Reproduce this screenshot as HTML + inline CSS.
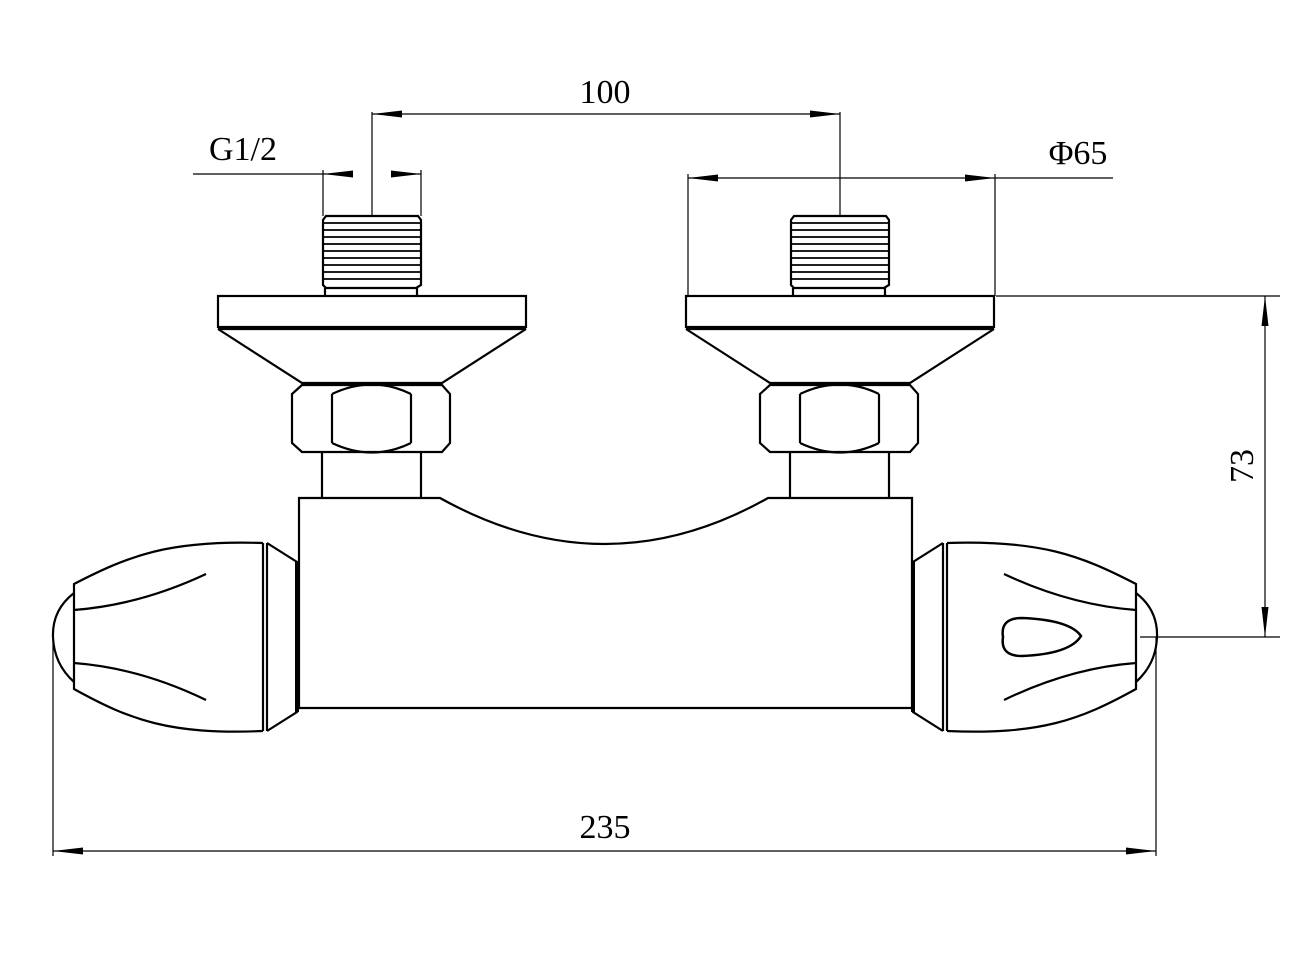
<!DOCTYPE html>
<html><head><style>html,body{margin:0;padding:0;background:#fff}svg{display:block}</style></head><body>
<svg width="1300" height="975" viewBox="0 0 1300 975" xmlns="http://www.w3.org/2000/svg">
<defs>
<marker id="a" viewBox="0 0 30 10" refX="30" refY="5" markerWidth="30" markerHeight="10" markerUnits="userSpaceOnUse" orient="auto-start-reverse"><path d="M0,1.5 L30,5 L0,8.5 Z" fill="#000"/></marker>
<g id="fit" fill="none" stroke="#000" stroke-width="2.2">
<path d="M323,220 L326,216 L418,216 L421,220 L421,285 L416,288 L326,288 L323,285 Z"/>
<path d="M323,223H421M323,230H421M323,237H421M323,244H421M323,251H421M323,258H421M323,265H421M323,272H421M323,279H421" stroke-width="1.8"/>
<path d="M325,288V296M417,288V296"/>
<rect x="218" y="296" width="308" height="31"/>
<path d="M218,329H526"/>
<path d="M218,329 L302,383 L442,383 L526,329"/>
<path d="M302,385 L292,394 L292,443 L302,452 L442,452 L450,443 L450,394 L442,385 Z"/>
<path d="M332,394 L332,443 M411,394 L411,443"/>
<path d="M332,394 Q372,375 411,394 M332,443 Q372,462 411,443"/>
<path d="M322,452V498M421,452V498"/>
</g>
<g id="hnd" fill="none" stroke="#000" stroke-width="2.2">
<path d="M263,543 C170,540 130,555 74,584 L74,689 C130,720 170,735 263,731"/>
<path d="M74,593 Q52,610 53,637 Q54,664 74,682"/>
<path d="M263,543V731M267,543V731"/>
<path d="M267,543 L297,562 L297,712 L267,731"/>
<path d="M297,562V712" stroke-width="4"/>
<path d="M74,610 Q140,605 206,574 M74,663 Q140,668 206,700"/>
</g>
</defs>
<use href="#fit"/>
<use href="#fit" transform="translate(468,0)"/>
<use href="#hnd"/>
<use href="#hnd" transform="translate(1210,0) scale(-1,1)"/>
<path d="M1003,637 Q1000,618 1022,618 Q1070,620 1081,636 Q1070,654 1022,656 Q1000,656 1003,637 Z" fill="none" stroke="#000" stroke-width="2.5"/>
<path d="M299,708 V498 H440 Q605,590 768,498 H912 V708 Z" fill="none" stroke="#000" stroke-width="2.2"/>
<g stroke="#000" stroke-width="1.2" fill="none">
<path d="M372,112V215M840,112V215"/>
<path d="M372,114H840" marker-start="url(#a)" marker-end="url(#a)"/>
<path d="M323,170V216M421,170V216"/>
<path d="M193,174H323"/>
<path d="M323,174H353" marker-start="url(#a)"/>
<path d="M391,174H421" marker-end="url(#a)"/>
<path d="M688,174V296M995,174V296"/>
<path d="M688,178H995" marker-start="url(#a)" marker-end="url(#a)"/>
<path d="M995,178H1113"/>
<path d="M996,296H1280M1140,637H1280"/>
<path d="M1265,296V637" marker-start="url(#a)" marker-end="url(#a)"/>
<path d="M53,637V856M1156,637V856"/>
<path d="M53,851H1156" marker-start="url(#a)" marker-end="url(#a)"/>
</g>
<g font-family="Liberation Serif, serif" font-size="34" fill="#000" text-anchor="middle">
<text x="605" y="103">100</text>
<text x="243" y="160">G1/2</text>
<text x="1078" y="164">Φ65</text>
<text x="605" y="838">235</text>
<text transform="translate(1253,466) rotate(-90)">73</text>
</g>
</svg>
</body></html>
